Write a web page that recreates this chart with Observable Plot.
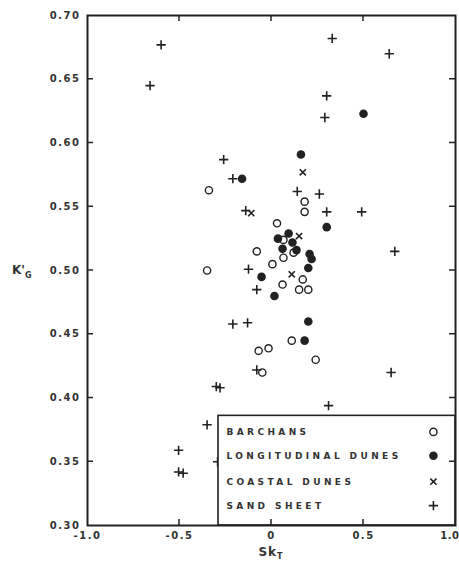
<!DOCTYPE html>
<html>
<head>
<meta charset="utf-8">
<script src="https://cdn.jsdelivr.net/npm/d3@7"></script>
<script src="https://cdn.jsdelivr.net/npm/@observablehq/plot@0.6"></script>
<style>
  body { margin: 0; background: #fff; }
  #chart { position: relative; width: 459px; height: 567px; }
</style>
</head>
<body>
<div id="chart"></div>
<script>
// ---- data (Sk_T, K'_G) ----
const barchansX = [-0.34, 0.18, 0.18, 0.03, -0.08, 0.005, -0.35, 0.06, 0.17, 0.15, 0.20, 0.065, 0.12, 0.065, 0.11, -0.016, -0.07, 0.24, -0.05];
const barchansY = [0.563, 0.554, 0.546, 0.537, 0.515, 0.505, 0.500, 0.489, 0.493, 0.485, 0.485, 0.510, 0.514, 0.524, 0.445, 0.439, 0.437, 0.430, 0.420];

const longitudinalX = [-0.16, 0.16, 0.50, 0.30, 0.035, 0.093, 0.06, 0.114, 0.136, 0.207, 0.218, 0.20, -0.054, 0.016, 0.20, 0.18];
const longitudinalY = [0.572, 0.591, 0.623, 0.534, 0.525, 0.529, 0.517, 0.522, 0.516, 0.513, 0.509, 0.502, 0.495, 0.480, 0.460, 0.445];

const coastalX = [0.17, 0.15, 0.11, -0.11];
const coastalY = [0.577, 0.527, 0.497, 0.545];

const sandX = [-0.60, -0.66, 0.33, 0.64, 0.30, 0.29, -0.26, -0.21, 0.14, 0.26, -0.14, 0.30, 0.49, 0.67, -0.125, -0.08, -0.21, -0.13, -0.08, 0.65, 0.31, -0.30, -0.28, -0.35, -0.505, -0.505, -0.48, -0.293];
const sandY = [0.677, 0.645, 0.682, 0.670, 0.637, 0.620, 0.587, 0.572, 0.562, 0.560, 0.547, 0.546, 0.546, 0.515, 0.501, 0.485, 0.458, 0.459, 0.422, 0.420, 0.394, 0.409, 0.408, 0.379, 0.359, 0.342, 0.341, 0.350];

const legendLabels = ["BARCHANS", "LONGITUDINAL DUNES", "COASTAL DUNES", "SAND SHEET"];
const xTicks = [-1.0, -0.5, 0, 0.5, 1.0];
const xTickLabels = ["-1.0", "-0.5", "0", "0.5", "1.0"];
const yTicks = [0.30, 0.35, 0.40, 0.45, 0.50, 0.55, 0.60, 0.65, 0.70];
const yTickLabels = ["0.30", "0.35", "0.40", "0.45", "0.50", "0.55", "0.60", "0.65", "0.70"];

// ---- build tables ----
const zip = (xs, ys) => xs.map((x, i) => ({x, y: ys[i]}));
const barchans = zip(barchansX, barchansY);
const longitudinal = zip(longitudinalX, longitudinalY);
const coastal = zip(coastalX, coastalY);
const sand = zip(sandX, sandY);

const W = 459, H = 567;
const mL = 87, mR = 4, mT = 15, mB = 42;
const ink = "#222";
const font = "'DejaVu Sans', 'Liberation Sans', Arial, sans-serif";

// legend layout (in data space)
const legX1 = -0.288, legY2 = 0.386;
const legRowY = [0.3734, 0.3547, 0.3344, 0.3156];
const legTextX = -0.245, legSymX = 0.88;
const legend = legendLabels.map((label, i) => ({label, y: legRowY[i], kind: i}));

const xFmt = d => xTickLabels[xTicks.indexOf(d)];
const yFmt = d => yTickLabels[yTicks.findIndex(t => Math.abs(t - d) < 1e-9)];

const plot = Plot.plot({
  width: W, height: H,
  marginLeft: mL, marginRight: mR, marginTop: mT, marginBottom: mB,
  x: {domain: [-1, 1]},
  y: {domain: [0.3, 0.7]},
  style: {fontFamily: font, color: ink, background: "#fff"},
  marks: [
    Plot.axisX(xTicks.slice(0, -1), {tickSize: 0, tickPadding: 6, label: null, fontSize: 10, fontWeight: "bold", fill: "#333", tickFormat: xFmt}),
    Plot.axisX(xTicks.slice(-1), {tickSize: 0, tickPadding: 6, label: null, fontSize: 10, fontWeight: "bold", fill: "#333", tickFormat: xFmt, textAnchor: "end", dx: 4}),
    Plot.axisY(yTicks, {tickSize: 0, tickPadding: 7, label: null, fontSize: 10, fontWeight: "bold", fill: "#333", tickFormat: yFmt}),
    // data
    Plot.dot(sand, {x: "x", y: "y", symbol: "plus", r: 3.1, stroke: ink, strokeWidth: 1.6}),
    Plot.dot(coastal, {x: "x", y: "y", symbol: "times", r: 2.9, stroke: ink, strokeWidth: 1.6}),
    Plot.dot(barchans, {x: "x", y: "y", r: 3.6, stroke: ink, strokeWidth: 1.4, fill: "none"}),
    Plot.dot(longitudinal, {x: "x", y: "y", r: 4.3, fill: ink, stroke: "none"}),
    // legend box
    Plot.rect([0], {x1: legX1, x2: 1, y1: 0.3, y2: legY2, fill: "#fff", stroke: ink, strokeWidth: 1.6}),
    Plot.text(legend, {x: legTextX, y: "y", text: "label", textAnchor: "start", fontSize: 9, fontWeight: "bold", fill: "#333"}),
    Plot.dot(legend.filter(d => d.kind === 0), {x: legSymX, y: "y", r: 3.6, stroke: ink, strokeWidth: 1.4, fill: "none"}),
    Plot.dot(legend.filter(d => d.kind === 1), {x: legSymX, y: "y", r: 4.3, fill: ink, stroke: "none"}),
    Plot.dot(legend.filter(d => d.kind === 2), {x: legSymX, y: "y", symbol: "times", r: 2.9, stroke: ink, strokeWidth: 1.6}),
    Plot.dot(legend.filter(d => d.kind === 3), {x: legSymX, y: "y", symbol: "plus", r: 3.1, stroke: ink, strokeWidth: 1.6}),
    Plot.frame({stroke: ink, strokeWidth: 2})
  ]
});

document.getElementById("chart").appendChild(plot);

const svg = d3.select(plot);
const sx = plot.scale("x"), sy = plot.scale("y");

// letter spacing on tick labels and legend text
svg.selectAll("g[aria-label='x-axis tick label'] text, g[aria-label='y-axis tick label'] text")
  .attr("letter-spacing", "1.5px");
svg.selectAll("text").filter(function() { return this.textContent === "1.0"; })
  .attr("letter-spacing", "0.5px");
svg.selectAll("text").filter(function() { return legendLabels.includes(this.textContent); })
  .attr("letter-spacing", "3.4px");

// inward tick marks on all four sides
const L = sx.apply(-1), R = sx.apply(1), T = sy.apply(0.7), B = sy.apply(0.3);
const tk = svg.append("g").attr("stroke", ink).attr("stroke-width", 1.5);
yTicks.slice(1, -1).forEach(v => {
  const y = sy.apply(v);
  tk.append("line").attr("x1", L).attr("x2", L + 6).attr("y1", y).attr("y2", y);
  tk.append("line").attr("x1", R).attr("x2", R - 6).attr("y1", y).attr("y2", y);
});
xTicks.slice(1, -1).forEach(v => {
  const x = sx.apply(v);
  tk.append("line").attr("x1", x).attr("x2", x).attr("y1", T).attr("y2", T + 6);
  tk.append("line").attr("x1", x).attr("x2", x).attr("y1", B).attr("y2", B - 6);
});

// axis titles with subscripts
const xt = svg.append("text")
  .attr("x", sx.apply(0)).attr("y", 556)
  .attr("text-anchor", "middle").attr("fill", "#333").attr("font-family", font)
  .attr("font-size", 12).attr("font-weight", "bold").attr("letter-spacing", "1px");
xt.append("tspan").text("Sk");
xt.append("tspan").attr("font-size", 8).attr("dy", 3).text("T");

const yt = svg.append("text")
  .attr("x", 12).attr("y", sy.apply(0.5) + 4)
  .attr("text-anchor", "start").attr("fill", "#333").attr("font-family", font)
  .attr("font-size", 12).attr("font-weight", "bold");
yt.append("tspan").text("K'");
yt.append("tspan").attr("font-size", 8).attr("dy", 4).text("G");
</script>
</body>
</html>
